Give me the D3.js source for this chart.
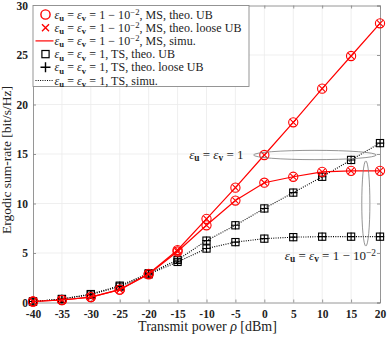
<!DOCTYPE html>
<html>
<head>
<meta charset="utf-8">
<script src="https://cdn.jsdelivr.net/npm/d3@7"></script>
<style>
  body { margin: 0; background: #fff; }
  svg { font-family: "Liberation Serif", serif; }
</style>
</head>
<body>
<svg id="chart" width="388" height="337"></svg>
<script>
// Ergodic sum-rate vs transmit power, MS / TS schemes

const powers = [-40, -35, -30, -25, -20, -15, -10, -5, 0, 5, 10, 15, 20];
// MS, eps = 1 (no saturation)
const msHigh = [0.1, 0.25, 0.55, 1.3, 2.9, 5.3, 8.45, 11.6, 14.9, 18.2, 21.6, 24.9, 28.2];
// MS, eps = 1 - 1e-2 (saturates)
const msLow = [0.1, 0.25, 0.55, 1.3, 2.85, 5.15, 7.8, 10.3, 12.1, 12.7, 13.2, 13.3, 13.3];
// TS, eps = 1
const tsHigh = [0.1, 0.35, 0.85, 1.7, 2.95, 4.3, 6.25, 7.8, 9.5, 11.1, 12.7, 14.4, 16.1];
// TS, eps = 1 - 1e-2
const tsLow = [0.1, 0.35, 0.8, 1.6, 2.85, 4.1, 5.45, 6.1, 6.45, 6.6, 6.65, 6.65, 6.65];

const xTicks = [-40, -35, -30, -25, -20, -15, -10, -5, 0, 5, 10, 15, 20];
const yTicks = [0, 5, 10, 15, 20, 25, 30];

const legendLabels = [
  { eps: 'low', scheme: 'MS, theo. UB', marker: 'circle' },
  { eps: 'low', scheme: 'MS, theo. loose UB', marker: 'cross' },
  { eps: 'low', scheme: 'MS, simu.', marker: 'redline' },
  { eps: 'one', scheme: 'TS, theo. UB', marker: 'square' },
  { eps: 'one', scheme: 'TS, theo. loose UB', marker: 'plus' },
  { eps: 'one', scheme: 'TS, simu.', marker: 'dotline' }
];

const svg = d3.select('#chart');
const margin = { top: 5.5, right: 8, bottom: 34.5, left: 33 };
const width = 388, height = 337;

const x = d3.scaleLinear().domain([-40, 20]).range([margin.left, width - margin.right]);
const y = d3.scaleLinear().domain([0, 30]).range([height - margin.bottom, margin.top]);

const axisColor = '#8a8a8a';

// grid
svg.append('g').selectAll('line').data(xTicks.slice(1, -1)).enter().append('line')
  .attr('x1', d => x(d)).attr('x2', d => x(d))
  .attr('y1', y(0)).attr('y2', y(30))
  .style('stroke', '#ebebeb').style('stroke-width', 0.8);
svg.append('g').selectAll('line').data(yTicks.slice(1, -1)).enter().append('line')
  .attr('x1', x(-40)).attr('x2', x(20))
  .attr('y1', d => y(d)).attr('y2', d => y(d))
  .style('stroke', '#ebebeb').style('stroke-width', 0.8);

// axes box with inward ticks
const axB = svg.append('g').attr('transform', `translate(0,${y(0)})`)
  .call(d3.axisBottom(x).tickValues(xTicks).tickSize(-3).tickPadding(7).tickFormat(d3.format('d')));
const axT = svg.append('g').attr('transform', `translate(0,${y(30)})`)
  .call(d3.axisTop(x).tickValues(xTicks).tickSize(-3).tickFormat(''));
const axL = svg.append('g').attr('transform', `translate(${x(-40)},0)`)
  .call(d3.axisLeft(y).tickValues(yTicks).tickSize(-3).tickPadding(5));
const axR = svg.append('g').attr('transform', `translate(${x(20)},0)`)
  .call(d3.axisRight(y).tickValues(yTicks).tickSize(-3).tickFormat(''));
[axB, axT, axL, axR].forEach(a => {
  a.selectAll('path, line').style('stroke', axisColor).style('stroke-width', 0.9);
  a.selectAll('text').style('font-family', '"Liberation Serif", serif')
    .style('font-weight', 'bold').style('font-size', '11.5px').style('fill', '#222');
});
axB.selectAll('text').text(d => d);

// axis labels
svg.append('text')
  .attr('x', (x(-40) + x(20)) / 2 + 1)
  .attr('y', 331)
  .attr('text-anchor', 'middle')
  .style('font-size', '14px')
  .style('fill', '#222')
  .html('Transmit power <tspan font-style="italic">ρ</tspan> [dBm]');

svg.append('text')
  .attr('transform', `translate(11,${(y(0) + y(30)) / 2 + 6}) rotate(-90)`)
  .attr('text-anchor', 'middle')
  .style('font-size', '13.5px')
  .style('fill', '#222')
  .text('Ergodic sum-rate [bit/s/Hz]');

// plotting
const plot = svg.append('g');
const pts = arr => arr.map((v, i) => ({ p: powers[i], v }));
const line = d3.line().x(d => x(d.p)).y(d => y(d.v));

function drawCircles(arr) {
  plot.append('g').selectAll('circle').data(pts(arr)).enter().append('circle')
    .attr('cx', d => x(d.p)).attr('cy', d => y(d.v)).attr('r', 4.6)
    .style('fill', 'none').style('stroke', '#ff0000').style('stroke-width', 1.1);
}
function drawCrosses(arr) {
  const s = 3.2;
  plot.append('g').selectAll('path').data(pts(arr)).enter().append('path')
    .attr('d', d => `M${x(d.p) - s},${y(d.v) - s}L${x(d.p) + s},${y(d.v) + s}M${x(d.p) - s},${y(d.v) + s}L${x(d.p) + s},${y(d.v) - s}`)
    .style('fill', 'none').style('stroke', '#ff0000').style('stroke-width', 1.1);
}
function drawSquares(arr) {
  const s = 3.6;
  plot.append('g').selectAll('rect').data(pts(arr)).enter().append('rect')
    .attr('x', d => x(d.p) - s).attr('y', d => y(d.v) - s)
    .attr('width', 2 * s).attr('height', 2 * s)
    .style('fill', 'none').style('stroke', '#000').style('stroke-width', 1.1);
}
function drawPluses(arr) {
  const s = 4.2;
  plot.append('g').selectAll('path').data(pts(arr)).enter().append('path')
    .attr('d', d => `M${x(d.p) - s},${y(d.v)}L${x(d.p) + s},${y(d.v)}M${x(d.p)},${y(d.v) - s}L${x(d.p)},${y(d.v) + s}`)
    .style('fill', 'none').style('stroke', '#000').style('stroke-width', 1.1);
}

// TS curves (black, dotted)
[tsHigh, tsLow].forEach(arr => {
  plot.append('path').datum(pts(arr)).attr('d', line)
    .style('fill', 'none').style('stroke', '#000').style('stroke-width', 1.1)
    .style('stroke-dasharray', '1,1.3');
  drawSquares(arr);
  drawPluses(arr);
});

// MS curves (red, solid)
[msHigh, msLow].forEach(arr => {
  plot.append('path').datum(pts(arr)).attr('d', line)
    .style('fill', 'none').style('stroke', '#ff0000').style('stroke-width', 1.2);
  drawCircles(arr);
  drawCrosses(arr);
});

// annotations (data coordinates)
const ann = svg.append('g').style('fill', 'none').style('stroke', '#7a7a7a').style('stroke-width', 0.8);
ann.append('ellipse')
  .attr('cx', x(8.75)).attr('cy', y(14.9))
  .attr('rx', x(8.75 + 10.6) - x(8.75)).attr('ry', y(14.9) - y(14.9 + 0.47));
ann.append('ellipse')
  .attr('cx', x(17.55)).attr('cy', y(10.0))
  .attr('rx', x(17.55 + 0.7) - x(17.55)).attr('ry', y(10) - y(14.3));

function epsText(sel, tail) {
  sel.append('tspan').style('font-style', 'italic').text('ε');
  sel.append('tspan').attr('dy', 2.5).style('font-size', '0.72em').style('font-weight', 'bold').text('u');
  sel.append('tspan').attr('dy', -2.5).text(' = ');
  sel.append('tspan').style('font-style', 'italic').text('ε');
  sel.append('tspan').attr('dy', 2.5).style('font-size', '0.72em').style('font-weight', 'bold').text('v');
  sel.append('tspan').attr('dy', -2.5).text(' = 1');
  tail(sel);
}
const supTail = extra => sel => {
  sel.append('tspan').text(' − 10');
  sel.append('tspan').attr('dy', -4).style('font-size', '0.72em').text('−2');
  sel.append('tspan').attr('dy', 4).text(extra);
};

svg.append('text')
  .attr('x', x(-3.6)).attr('y', y(14.5))
  .attr('text-anchor', 'end')
  .style('font-size', '13px').style('fill', '#222')
  .call(epsText, () => {});

svg.append('text')
  .attr('x', x(19.3)).attr('y', y(4.3))
  .attr('text-anchor', 'end')
  .style('font-size', '13px').style('fill', '#222')
  .call(epsText, supTail(''));

// legend
const legend = svg.append('g');
legend.append('rect')
  .attr('x', x(-40)).attr('y', y(30))
  .attr('width', 216).attr('height', 81)
  .style('fill', '#fff').style('stroke', axisColor).style('stroke-width', 0.9);

const rowY = i => y(30) + 9 + i * 13.2;
const mx = x(-40) + 12.5;
legendLabels.forEach((d, i) => {
  const g = legend.append('g').attr('transform', `translate(0,${rowY(i)})`);
  if (d.marker === 'circle') {
    g.append('circle').attr('cx', mx).attr('cy', 0).attr('r', 4.6)
      .style('fill', 'none').style('stroke', '#ff0000').style('stroke-width', 1.4);
  } else if (d.marker === 'cross') {
    g.append('path').attr('d', `M${mx - 3.5},-3.5L${mx + 3.5},3.5M${mx - 3.5},3.5L${mx + 3.5},-3.5`)
      .style('stroke', '#ff0000').style('stroke-width', 1.4);
  } else if (d.marker === 'redline') {
    g.append('line').attr('x1', mx - 10).attr('x2', mx + 8).attr('y1', 0).attr('y2', 0)
      .style('stroke', '#ff0000').style('stroke-width', 1.2);
  } else if (d.marker === 'square') {
    g.append('rect').attr('x', mx - 3.6).attr('y', -3.6).attr('width', 7.2).attr('height', 7.2)
      .style('fill', 'none').style('stroke', '#000').style('stroke-width', 1.2);
  } else if (d.marker === 'plus') {
    g.append('path').attr('d', `M${mx - 5},0L${mx + 5},0M${mx},-5L${mx},5`)
      .style('stroke', '#000').style('stroke-width', 1.4);
  } else {
    g.append('line').attr('x1', mx - 10).attr('x2', mx + 8).attr('y1', 0).attr('y2', 0)
      .style('stroke', '#000').style('stroke-width', 1.1).style('stroke-dasharray', '1,1.3');
  }
  const t = g.append('text').attr('x', mx + 9).attr('y', 4)
    .style('font-size', '12px').style('letter-spacing', '0.05px').style('fill', '#222');
  epsText(t, d.eps === 'low' ? supTail(', ' + d.scheme) : sel => sel.append('tspan').text(', ' + d.scheme));
});
</script>
</body>
</html>
